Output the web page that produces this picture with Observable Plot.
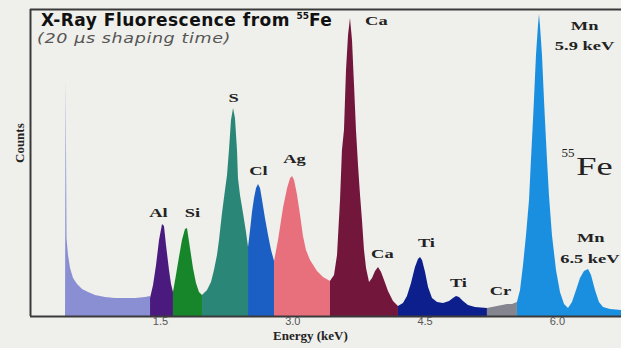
<!DOCTYPE html>
<html><head><meta charset="utf-8">
<script src="https://cdn.jsdelivr.net/npm/d3@7"></script>
<script src="https://cdn.jsdelivr.net/npm/@observablehq/plot@0.6"></script>
<style>
html,body{margin:0;padding:0;background:#efefeb;}
#wrap{position:relative;width:621px;height:348px;overflow:hidden;}
#wrap svg{display:block;}
#title{position:absolute;left:41px;top:12px;font:bold 17px "DejaVu Sans",sans-serif;line-height:16px;color:#111;white-space:nowrap;letter-spacing:0.5px;}
#title sup{font-size:9px;vertical-align:0;position:relative;top:-7px;letter-spacing:0;}
#sub{position:absolute;left:37px;top:31px;font:oblique 14px "DejaVu Sans",sans-serif;line-height:14px;color:#555;white-space:nowrap;letter-spacing:0.5px;transform:scaleX(1.25);transform-origin:left center;}
</style>
</head><body>
<div id="wrap"><div id="chart"></div>
<div id="title">X-Ray Fluorescence from <sup>55</sup>Fe</div>
<div id="sub">(20 µs shaping time)</div>
</div>
<script>
// Spectrum segments (energy in keV, counts)
const noiseE = [0.423,0.430,0.440,0.457,0.480,0.514,0.559,0.616,0.684,0.763,0.876,0.990,1.103,1.217,1.330,1.387];
const noiseC = [0,2360,780,610,480,380,320,270,240,210,190,180,180,180,190,200];
const alE = [1.387,1.421,1.455,1.489,1.523,1.545,1.568,1.602,1.625,1.647];
const alC = [180,310,510,760,920,900,710,460,320,240];
const siE = [1.647,1.681,1.715,1.749,1.783,1.806,1.840,1.874,1.908,1.942,1.976];
const siC = [240,410,590,760,870,880,680,480,330,240,210];
const sE = [1.976,2.033,2.078,2.112,2.146,2.169,2.203,2.237,2.260,2.282,2.305,2.328,2.350,2.373,2.384,2.407,2.441,2.475,2.498];
const sC = [210,260,340,460,610,760,1030,1260,1410,1660,1960,2080,1980,1660,1380,1210,1030,840,690];
const clE = [2.498,2.521,2.543,2.566,2.589,2.611,2.634,2.657,2.690,2.725,2.759,2.793];
const clC = [690,860,1040,1180,1280,1320,1280,1160,980,810,660,550];
const agE = [2.793,2.838,2.896,2.941,2.975,2.997,3.020,3.054,3.088,3.121,3.155,3.201,3.280,3.348,3.427];
const agC = [550,760,1090,1280,1380,1400,1360,1210,1010,800,660,560,450,390,350];
const caE = [3.427,3.473,3.507,3.541,3.563,3.586,3.609,3.632,3.654,3.677,3.700,3.722,3.745,3.768,3.790,3.813,3.836,3.870,3.904,3.938,3.972,4.006,4.040,4.085,4.142,4.198];
const caC = [350,410,610,1160,1660,1860,2460,2810,2980,2760,2310,1860,1510,1210,960,660,480,340,380,450,490,440,360,250,150,100];
const tiE = [4.198,4.255,4.300,4.346,4.391,4.425,4.448,4.471,4.505,4.539,4.584,4.641,4.709,4.777,4.822,4.856,4.890,4.935,4.992,5.071,5.207];
const tiC = [100,130,200,330,490,570,590,560,440,290,180,140,130,150,180,200,190,150,110,90,80];
const crE = [5.207,5.264,5.321,5.378,5.434,5.491,5.547];
const crC = [80,90,100,110,120,120,140];
const mnE = [5.547,5.582,5.616,5.650,5.684,5.706,5.729,5.740,5.763,5.786,5.797,5.808,5.831,5.854,5.865,5.888,5.910,5.944,5.990,6.035,6.081,6.126,6.171,6.217,6.262,6.307,6.353,6.387,6.432,6.477,6.523,6.602,6.727];
const mnC = [140,260,510,810,1160,1560,1960,2160,2610,2910,3020,2910,2610,2160,1960,1560,1210,810,460,240,120,80,140,260,380,450,470,410,260,140,90,70,60];

const segments = ["noise","Al","Si","S","Cl","Ag","Ca","Ti","Cr","Mn"];
const segE = [noiseE, alE, siE, sE, clE, agE, caE, tiE, crE, mnE];
const segC = [noiseC, alC, siC, sC, clC, agC, caC, tiC, crC, mnC];

// Peak labels
const labelText = ["Al","Si","S","Cl","Ag","Ca","Ca","Ti","Ti","Cr","Mn","5.9 keV","Mn","6.5 keV"];
const labelE = [1.477,1.862,2.328,2.611,3.020,3.949,4.017,4.516,4.879,5.355,6.310,6.310,6.380,6.370];
const labelC = [1040,1040,2190,1460,1580,2960,630,740,340,260,2910,2710,790,580];
const isoText = ["55","Fe"];
const isoE = [6.120,6.421];
const isoC = [1635,1500];

const xTicks = [1.5, 3.0, 4.5, 6.0];
const energyDomain = [0.026, 6.727];
const countsDomain = [0, 3070];

const segFill = {noise:"#8a8fd4", Al:"#4a1a7e", Si:"#17862a", S:"#2a8676", Cl:"#1c5fc4", Ag:"#e8707c", Ca:"#72163c", Ti:"#0c1f8c", Cr:"#85858f", Mn:"#1a8fe0"};

const segMarks = segments.map((s, i) => {
  const rows = segE[i].map((e, j) => ({e, c: segC[i][j]}));
  return Plot.areaY(rows, {x: "e", y: "c", fill: segFill[s], curve: "linear"});
});

const labels = labelText.map((t, i) => ({t, e: labelE[i], c: labelC[i]}));
const iso = isoText.map((t, i) => ({t, e: isoE[i], c: isoC[i]}));

const chart = Plot.plot({
  width: 621, height: 348,
  marginLeft: 30, marginRight: 0, marginTop: 9, marginBottom: 32,
  style: {background: "transparent", overflow: "visible"},
  x: {domain: energyDomain},
  y: {domain: countsDomain},
  marks: [
    ...segMarks,
    Plot.ruleY(countsDomain, {stroke: "#3a3a3a", strokeWidth: 2}),
    Plot.ruleX([energyDomain[0]], {stroke: "#3a3a3a", strokeWidth: 2}),
    Plot.axisX({ticks: xTicks, tickFormat: d => d.toFixed(1), tickSize: 0, tickPadding: 1, fontSize: 11, color: "#555", label: null, fontFamily: "Liberation Sans, Arial, sans-serif"}),
    Plot.axisY({ticks: [], label: null}),
    Plot.text(labels, {x: "e", y: "c", text: "t", fontSize: 13, fontWeight: "bold", fontFamily: "Liberation Serif, Times New Roman, serif", fill: "#222"}),
    Plot.text(iso, {x: "e", y: "c", text: "t", fontSize: d => d.t === "Fe" ? 26 : 13, fontFamily: "Liberation Serif, serif", fill: "#222"}),
    Plot.text(["Energy (keV)"], {x: 3.2, frameAnchor: "bottom", dy: 23, text: d => d, fontSize: 13, fontWeight: "bold", fontFamily: "Liberation Serif, serif", fill: "#222"}),
    Plot.text(["Counts"], {frameAnchor: "left", dx: -11, rotate: -90, text: d => d, fontSize: 13, fontWeight: "bold", fontFamily: "Liberation Serif, serif", fill: "#222"})
  ]
});
document.getElementById("chart").append(chart);

// widen the peak-label glyphs (the reference uses a broad serif face)
const textGroups = chart.querySelectorAll('g[aria-label="text"]');
[[0, 1.42], [1, 1.4]].forEach(([gi, s]) => {
  const g = textGroups[gi];
  if (!g) return;
  Array.from(g.querySelectorAll("text")).forEach(t => {
    if (t.textContent === "55") return;
    const b = t.getBBox();
    const cons = t.transform.baseVal.consolidate();
    const ox = cons ? cons.matrix.e : 0, oy = cons ? cons.matrix.f : 0;
    const cx = ox + b.x + b.width / 2, cy = oy + b.y + b.height / 2;
    const wrapper = document.createElementNS("http://www.w3.org/2000/svg", "g");
    wrapper.setAttribute("transform", `translate(${cx},${cy}) scale(${s},1) translate(${-cx},${-cy})`);
    t.parentNode.insertBefore(wrapper, t);
    wrapper.appendChild(t);
  });
});
</script>
</body></html>
